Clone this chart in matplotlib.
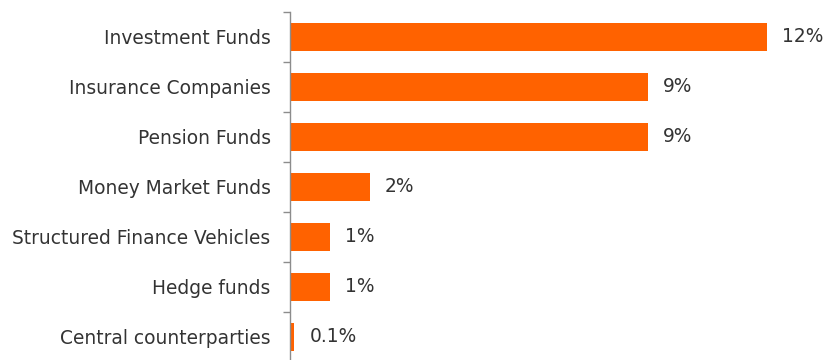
import matplotlib
matplotlib.use("Agg")
import matplotlib.pyplot as plt
import numpy as np

categories = ["Investment Funds", "Insurance Companies", "Pension Funds",
              "Money Market Funds", "Structured Finance Vehicles",
              "Hedge funds", "Central counterparties"]
values = [12, 9, 9, 2, 1, 1, 0.1]
value_labels = ["12%", "9%", "9%", "2%", "1%", "1%", "0.1%"]

W, H = 826, 360
fig = plt.figure(figsize=(W / 100, H / 100), dpi=100)
# axis spine at x=290px, 12% reaches x=767px; categories from y=12 to y=362
ax = fig.add_axes([290 / W, -2 / H, 477 / W, 350 / H])

y = np.arange(len(categories))
ax.barh(y, values, height=0.56, color="#FF6200")
ax.set_xlim(0, 12)
ax.set_ylim(6.5, -0.5)

for yi, v, lab in zip(y, values, value_labels):
    ax.annotate(lab, (v, yi), xytext=(11, 0), textcoords="offset points",
                va="center", ha="left", fontsize=13.4, color="#333333",
                annotation_clip=False)

ax.set_yticks(y)
ax.set_yticklabels(categories, fontsize=13.4, color="#333333")
ax.tick_params(axis="y", which="major", length=0, pad=14)
ax.set_yticks(np.arange(-0.5, 7, 1), minor=True)
ax.tick_params(axis="y", which="minor", length=5, width=1, color="#8c8c8c")
ax.set_xticks([])

for s in ["top", "right", "bottom"]:
    ax.spines[s].set_visible(False)
ax.spines["left"].set_color("#8c8c8c")
ax.spines["left"].set_linewidth(1)

fig.savefig("out.png", dpi=100)
